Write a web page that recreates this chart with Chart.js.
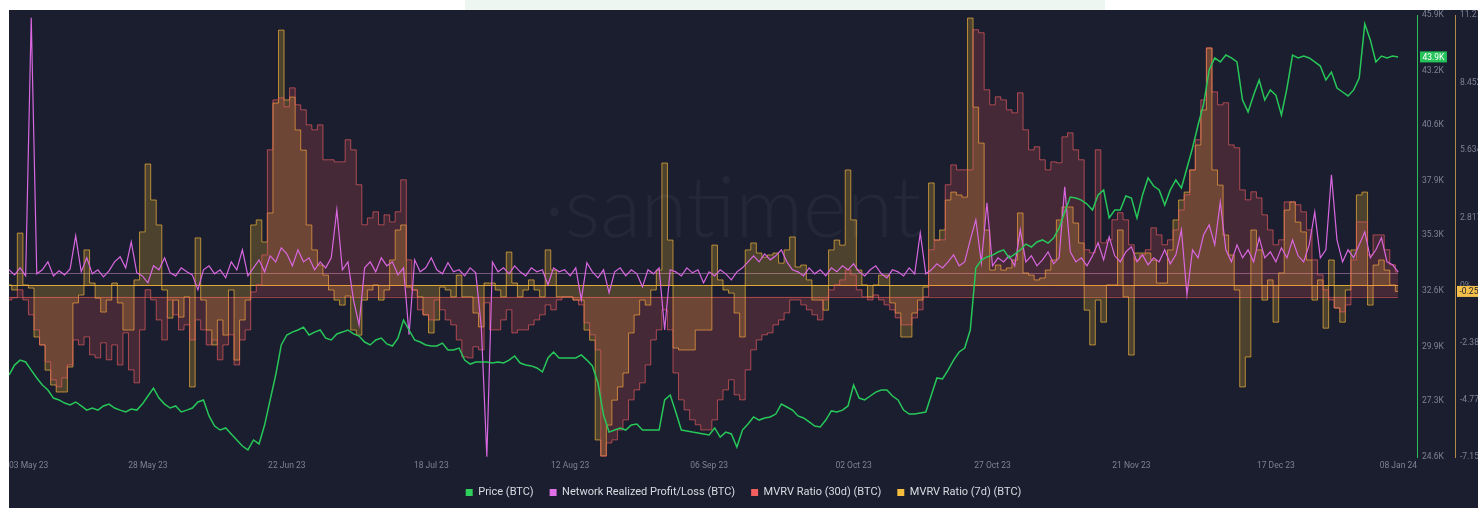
<!DOCTYPE html>
<html>
<head>
<meta charset="utf-8">
<script src="https://cdn.jsdelivr.net/npm/chart.js@4"></script>
<style>
  html, body { margin: 0; padding: 0; background: #fff; overflow: hidden; }
  #band { position: absolute; left: 465px; top: 0; width: 640px; height: 10px; background: #eef6f2; }
  #panel { position: absolute; left: 9px; top: 10px; width: 1469px; height: 498px; background: #1b1e2e; }
</style>
</head>
<body>
<div id="band"></div>
<div id="panel"><canvas id="chart"></canvas></div>
<script>
// daily points, 03 May 23 -> 08 Jan 24
const xTickDays = [0, 25, 50, 76, 101, 126, 152, 177, 202, 228, 253.4];
const xTickLabels = ['03 May 23', '28 May 23', '22 Jun 23', '18 Jul 23', '12 Aug 23', '06 Sep 23',
  '02 Oct 23', '27 Oct 23', '21 Nov 23', '17 Dec 23', '08 Jan 24'];
const xMax = 253.4;

const priceTicks = [24.6, 27.3, 29.9, 32.6, 35.3, 37.9, 40.6, 43.2, 45.9];
const mvrvTicks = [-7.15, -4.77, -2.38, 0, 2.817, 5.634, 8.452, 11.27];
const mvrvTickLabels = ['-7.15%', '-4.77%', '-2.38%', '0%', '2.817%', '5.634%', '8.452%', '11.27%'];

const seriesNames = ['Price (BTC)', 'Network Realized Profit/Loss (BTC)', 'MVRV Ratio (30d) (BTC)', 'MVRV Ratio (7d) (BTC)'];
const legendColors = ['#2fcf5c', '#e070e8', '#f25f5f', '#f5bd3d'];

// price, thousands USD
const price = [
  28.55, 29.03, 29.27, 29.18, 28.79, 28.41, 28.07, 27.83, 27.44, 27.35,
  27.20, 27.11, 27.25, 27.06, 26.86, 26.96, 26.86, 27.06, 27.15, 26.96,
  26.86, 26.77, 26.91, 26.86, 27.15, 27.54, 27.92, 27.44, 27.15, 26.96,
  27.06, 26.77, 26.86, 26.96, 27.25, 27.35, 26.58, 26.09, 25.90, 26.00,
  25.71, 25.42, 25.13, 24.94, 25.42, 25.23, 26.14, 27.35, 28.55, 30.00,
  30.48, 30.62, 30.72, 30.86, 30.48, 30.62, 30.72, 30.33, 30.24, 30.53,
  30.62, 30.72, 30.53, 30.43, 30.14, 30.00, 30.24, 30.33, 30.05, 29.95,
  30.33, 31.20, 30.72, 30.24, 30.14, 30.00, 29.95, 29.95, 30.09, 29.76,
  29.76, 29.85, 29.27, 29.08, 29.18, 29.18, 29.18, 29.13, 29.18, 29.13,
  29.27, 29.47, 29.13, 29.03, 28.99, 28.89, 28.70, 29.37, 29.66, 29.37,
  29.37, 29.37, 29.37, 29.52, 29.27, 28.99, 28.17, 26.62, 25.80, 25.90,
  26.00, 25.90, 26.14, 26.19, 25.90, 25.90, 25.90, 25.90, 27.35, 27.59,
  26.77, 25.90, 25.85, 25.80, 25.76, 25.71, 25.66, 26.00, 25.56, 25.80,
  25.71, 25.08, 25.90, 26.19, 26.53, 26.38, 26.48, 26.53, 26.67, 27.15,
  27.01, 26.86, 26.58, 26.48, 26.29, 26.09, 26.05, 26.38, 26.82, 26.77,
  26.86, 27.06, 28.07, 27.44, 27.35, 27.54, 27.73, 27.83, 27.83, 27.54,
  27.35, 26.86, 26.67, 26.67, 26.72, 26.77, 27.59, 28.41, 28.36, 28.79,
  29.27, 29.66, 29.85, 30.72, 33.71, 34.09, 34.24, 34.33, 34.48, 34.58,
  34.19, 34.38, 34.58, 34.86, 34.72, 34.96, 35.06, 34.91, 35.15, 35.64,
  36.41, 37.13, 37.08, 36.98, 36.79, 36.50, 37.23, 37.47, 36.12, 36.50,
  36.50, 37.18, 37.08, 36.12, 37.23, 38.05, 37.66, 37.47, 36.74, 37.47,
  37.95, 37.56, 38.53, 39.49, 40.60, 41.61, 43.25, 43.83, 43.64, 43.97,
  43.83, 43.64, 41.80, 41.23, 42.04, 42.77, 41.80, 42.29, 42.04, 41.08,
  42.38, 43.97, 43.83, 43.92, 43.83, 43.64, 43.44, 42.77, 43.15, 42.38,
  42.19, 42.00, 42.29, 42.86, 45.47, 44.70, 43.64, 43.92, 43.83, 43.92,
  43.88
];

// network realized profit/loss, millions USD
const nrpl = [
  33, -22, 54, -33, 2769, -11, 33, 119, -33, 22,
  -22, 43, 402, 11, 163, -11, 33, -43, 22, 119,
  174, 54, 337, 0, -33, -109, 76, 33, 163, 0,
  -33, 54, 11, -22, -185, 33, 76, -11, 33, -54,
  119, 33, 250, -33, 54, 141, 11, 185, 119, 272,
  206, 76, 250, 119, 163, 33, 119, 54, 163, 684,
  33, 119, -293, -565, 54, 119, 11, 163, 76, 119,
  -22, 54, -673, 141, 11, 54, 163, 33, -11, 109,
  11, 33, -33, 54, 0, -586, -1998, 119, 11, 54,
  -11, 76, 11, -33, 54, 11, 33, -130, 54, 11,
  33, -33, 54, -293, 109, 11, -54, 33, -217, 11,
  54, -33, 33, -11, -152, 33, -11, 54, -619, 33,
  11, -33, 54, 0, 33, -109, 11, -33, 33, -11,
  -76, 11, 54, 119, 185, 119, 206, 141, 185, 250,
  119, 33, 11, -33, 54, -11, 33, -33, 54, 11,
  76, 33, 98, 11, -33, 33, 76, -11, -54, 33,
  11, -33, 54, -11, 434, -11, 33, 98, 54, 119,
  195, 76, 119, 358, 576, 109, 760, 76, 163, 119,
  185, 76, 467, 119, 185, 76, 141, 228, 98, 163,
  934, 228, 119, 163, 76, 185, 326, 141, 391, 185,
  119, 228, 282, 119, 195, 87, 163, 119, 250, 98,
  195, 467, -239, 250, 163, 413, 521, 304, 771, 250,
  119, 304, 163, 250, 119, 380, 163, 228, 119, 272,
  163, 358, 185, 119, 304, 662, 163, 250, 1064, 358,
  119, 250, 163, 304, 445, 163, 250, 380, 119, 87,
  11
];

// MVRV 30d, percent
const mvrv30 = [
  -0.19, -0.06, 0.44, -0.19, -1.12, -2.06, -3.00, -4.06, -5.18, -5.62,
  -5.06, -4.25, -2.69, -3.00, -2.50, -3.62, -3.81, -2.87, -3.93, -3.00,
  -4.25, -2.25, -4.56, -5.37, -2.06, 0.44, -0.19, -1.44, -2.69, -0.19,
  -1.12, -2.06, -1.75, -2.69, -1.44, -2.06, -3.00, -2.69, -3.93, -3.00,
  -2.37, -4.25, -2.69, -2.06, 0.31, 0.75, 2.62, 9.18, 12.30, 12.43,
  11.87, 13.05, 11.99, 11.68, 10.74, 10.43, 10.74, 8.56, 8.56, 8.43,
  8.43, 9.81, 9.18, 7.00, 4.50, 4.93, 5.31, 4.50, 5.12, 4.68,
  5.31, 7.31, 2.31, 0.44, -0.81, -1.12, -1.44, -0.19, -0.81, -1.44,
  -1.75, -2.69, -3.75, -3.81, -3.12, -3.31, -0.37, -2.06, -2.06, -1.44,
  -0.81, -2.25, -2.06, -2.06, -1.75, -1.44, -1.12, -0.50, -0.81, -0.19,
  0, 0, -0.19, -0.50, -1.62, -2.37, -3.31, -9.95, -9.12, -8.93,
  -8.31, -7.68, -6.43, -5.81, -5.37, -4.25, -2.69, -2.06, -0.81, -2.06,
  -4.75, -6.43, -7.06, -7.68, -7.99, -8.31, -8.31, -7.68, -6.43, -5.81,
  -5.18, -6.12, -6.43, -4.56, -3.31, -2.69, -2.37, -2.25, -1.75, -1.44,
  -1.00, -0.19, -0.19, -0.50, -0.81, -1.12, -1.44, -0.19, 0.44, 0.75,
  1.06, 1.69, 1.37, 0.44, 0, -0.19, 0.12, -0.19, -0.50, -0.81,
  -1.31, -1.75, -1.75, -1.31, -0.81, 0, 2.94, 3.56, 3.56, 7.00,
  8.24, 7.93, 7.93, 7.93, 16.68, 16.49, 12.93, 11.99, 12.49, 12.30,
  11.68, 11.49, 12.74, 10.43, 9.18, 9.37, 8.56, 7.93, 8.43, 8.37,
  9.99, 10.24, 9.18, 8.56, 2.94, 2.75, 9.18, 3.37, 3.56, 4.81,
  5.25, 4.81, 3.25, 2.31, 2.62, 2.94, 4.31, 3.87, 3.25, 3.56,
  4.18, 5.43, 6.37, 7.93, 9.81, 12.30, 15.55, 12.80, 11.99, 12.12,
  9.49, 9.31, 6.68, 6.06, 6.56, 6.18, 5.12, 4.18, 3.25, 3.56,
  5.93, 5.93, 5.75, 5.31, 4.18, 2.31, 1.37, 0.44, -0.19, -0.69,
  -0.94, -0.50, 2.31, 4.68, 4.68, 2.62, 3.87, 3.87, 2.94, 2.00,
  1.56
];

// MVRV 7d, percent
const mvrv7 = [
  0.02, -0.19, 2.18, 0.02, -0.11, -2.15, -2.48, -3.53, -4.15, -4.44,
  -4.44, -3.40, -0.73, -0.40, 1.48, 0.10, -0.53, -1.11, -0.61, 0.10,
  -0.73, -1.86, -1.86, 0.23, 2.23, 5.06, 3.56, 2.52, -0.19, -1.36,
  -0.61, -1.32, -0.48, -4.23, 1.98, -0.61, -1.86, -2.48, -1.44, -2.07,
  -0.19, -3.11, -1.44, -0.61, 2.52, 2.73, 1.81, 3.02, 7.60, 10.64,
  7.73, 7.85, 6.48, 5.64, 2.52, 1.48, 0.85, 0.43, -0.19, -0.61,
  -0.82, -0.44, -1.86, -2.07, -0.61, -0.19, 0.02, -0.61, -0.19, 1.06,
  2.31, 2.52, -0.07, -0.19, -0.48, -1.23, -1.98, -1.44, -0.07, -0.19,
  -0.48, 0.43, -0.48, -0.48, -1.15, -1.73, 0.10, 0.10, -0.19, -0.48,
  1.39, 0.10, -0.48, -0.19, 0.23, -0.19, -0.48, 1.48, 0.64, -0.48,
  -0.48, -0.48, -0.61, -0.61, -1.86, -2.28, -6.44, -7.10, -5.82, -4.78,
  -4.23, -3.65, -1.98, -1.23, -0.61, -0.82, -0.19, 0.64, 5.10, 1.89,
  -2.61, -2.69, -2.69, -2.69, -1.86, -1.86, -1.86, 1.68, 0.23, -0.19,
  -0.32, -1.15, -2.15, 1.48, 1.77, 1.35, 1.18, 1.27, 1.35, 0.93,
  1.48, 2.02, 0.77, 0.85, 0.23, -0.61, -0.61, -1.03, 1.48, 1.89,
  1.68, 4.81, 2.73, 0.64, 0.02, -0.48, 0.02, 0.43, 0.43, -0.73,
  -1.15, -2.15, -2.15, -1.15, -0.61, -0.07, 4.27, 1.89, 2.31, 3.56,
  3.89, 3.77, 3.68, 11.14, 7.43, 5.93, 2.31, 0.64, 0.85, 0.64,
  0.73, 1.06, 3.02, 0.52, 0.43, 0.23, 0.31, 0.64, 1.06, 2.73,
  3.27, 3.27, 2.60, 1.77, -1.03, -2.48, -0.61, -1.53, 0.02, 0.02,
  2.31, -0.48, -2.90, 1.35, 1.35, 1.35, 1.06, 0.10, 0.10, 1.48,
  2.73, 3.56, 3.89, 4.81, 5.85, 7.31, 9.89, 4.81, 4.18, 2.10,
  1.27, -0.19, -4.23, -2.98, 2.31, 1.48, -0.61, 0.23, -1.53, 0.52,
  3.14, 3.48, 2.64, 2.23, 1.06, -0.61, 0.23, -1.78, 1.06, -0.94,
  -1.53, -0.19, 1.48, 3.77, 3.89, -0.82, 0.85, 1.06, 0.64, 0.02,
  -0.25
];

const tickColor = '#7d8294';
const pts = arr => arr.map((v, i) => ({ x: i, y: v }));

Chart.defaults.font.family = 'Roboto, sans-serif';

// faint logo behind the lines
const watermark = {
  id: 'watermark',
  beforeDatasetsDraw(chart) {
    const { ctx, chartArea: a } = chart;
    ctx.save();
    ctx.font = '300 84px Lato, sans-serif';
    ctx.fillStyle = 'rgba(255,255,255,0.045)';
    ctx.textAlign = 'center';
    ctx.textBaseline = 'middle';
    ctx.fillText('·santiment', a.left + a.width * 0.514, a.top + a.height * 0.44);
    ctx.restore();
  }
};

// zero lines of each metric
const zeroLines = {
  id: 'zeroLines',
  beforeDatasetsDraw(chart) {
    const { ctx, scales } = chart;
    const x0 = scales.x.getPixelForValue(0);
    const x1 = scales.x.getPixelForValue(price.length - 1);
    [['yP', 'rgba(235,160,225,0.45)'], ['yM', 'rgba(255,190,60,0.85)'], ['yR', 'rgba(230,90,90,0.6)']].forEach(([id, c]) => {
      const y = Math.round(scales[id].getPixelForValue(0)) + 0.5;
      ctx.save();
      ctx.strokeStyle = c;
      ctx.lineWidth = 1;
      ctx.beginPath();
      ctx.moveTo(x0, y);
      ctx.lineTo(x1, y);
      ctx.stroke();
      ctx.restore();
    });
  }
};

// last value tags on the two visible axes
const tags = {
  id: 'tags',
  afterDraw(chart) {
    const { ctx, scales } = chart;
    const drawTag = (scale, value, text, bg, fg, dx) => {
      const y = scale.getPixelForValue(value);
      ctx.save();
      ctx.font = '8.5px Roboto, sans-serif';
      const w = ctx.measureText(text).width + 5;
      ctx.fillStyle = bg;
      ctx.fillRect(scale.left + dx, y - 5.5, w, 11);
      ctx.fillStyle = fg;
      ctx.textBaseline = 'middle';
      ctx.fillText(text, scale.left + dx + 2.5, y + 0.5);
      ctx.restore();
    };
    const lastPrice = price[price.length - 1];
    const last7 = mvrv7[mvrv7.length - 1];
    drawTag(scales.y, lastPrice, lastPrice.toFixed(1) + 'K', '#25c35a', '#ffffff', 3);
    drawTag(scales.yM, last7, last7.toFixed(2), '#f4c04a', '#1b1e2e', 2);
  }
};

new Chart(document.getElementById('chart'), {
  type: 'line',
  data: {
    datasets: [
      {
        label: seriesNames[0], data: pts(price), yAxisID: 'y',
        borderColor: '#27c75a', borderWidth: 1.5, fill: false
      },
      {
        label: seriesNames[1], data: pts(nrpl), yAxisID: 'yP',
        borderColor: '#d867e0', borderWidth: 1.2, fill: false
      },
      {
        label: seriesNames[2], data: pts(mvrv30), yAxisID: 'yR', stepped: 'middle',
        borderColor: 'rgba(235,95,100,0.65)', borderWidth: 1,
        backgroundColor: 'rgba(255,90,90,0.19)', fill: 'origin'
      },
      {
        label: seriesNames[3], data: pts(mvrv7), yAxisID: 'yM', stepped: 'middle',
        borderColor: 'rgba(240,180,60,0.7)', borderWidth: 1,
        backgroundColor: 'rgba(255,195,50,0.22)', fill: 'origin'
      }
    ]
  },
  options: {
    animation: false,
    responsive: true,
    maintainAspectRatio: false,
    layout: { padding: { top: 5, left: 0, right: 0, bottom: 0 } },
    elements: { point: { radius: 0 }, line: { tension: 0 } },
    plugins: {
      tooltip: { enabled: false },
      legend: {
        position: 'bottom',
        labels: {
          boxWidth: 7, boxHeight: 7, padding: 16, color: '#d9dbe2', font: { size: 11 },
          generateLabels: chart => Chart.defaults.plugins.legend.labels.generateLabels(chart)
            .map((item, i) => Object.assign(item, { fillStyle: legendColors[i], strokeStyle: legendColors[i], lineWidth: 0 }))
        }
      }
    },
    scales: {
      x: {
        type: 'linear', min: 0, max: xMax,
        grid: { display: false, drawTicks: false },
        border: { display: false },
        afterBuildTicks: s => { s.ticks = xTickDays.map(v => ({ value: v })); },
        ticks: {
          align: 'inner', padding: 4, color: tickColor, font: { size: 8.5 },
          maxRotation: 0, autoSkip: false,
          callback: (v, i) => xTickLabels[i]
        },
        afterFit: s => { s.height = 14; s.paddingLeft = 0; s.paddingRight = 0; }
      },
      y: {
        position: 'right', min: 24.6, max: 45.9,
        grid: { display: false, drawTicks: false },
        border: { display: true, color: '#2bbf5a', width: 1 },
        afterBuildTicks: s => { s.ticks = priceTicks.map(v => ({ value: v })); },
        ticks: { padding: 5, color: tickColor, font: { size: 8.5 }, callback: v => v.toFixed(1) + 'K' },
        afterFit: s => { s.width = 38; s.paddingTop = 0; s.paddingBottom = 0; }
      },
      yM: {
        position: 'right', min: -7.15, max: 11.27,
        grid: { display: false, drawTicks: false },
        border: { display: true, color: '#b08a48', width: 1 },
        afterBuildTicks: s => { s.ticks = mvrvTicks.map(v => ({ value: v })); },
        ticks: { padding: 5, color: tickColor, font: { size: 8.5 }, callback: (v, i) => mvrvTickLabels[i] },
        afterFit: s => { s.width = 23; s.paddingTop = 0; s.paddingBottom = 0; }
      },
      yP: { display: false, min: -2000, max: 2800 },
      yR: { display: false, min: -10, max: 17.6 }
    }
  },
  plugins: [watermark, zeroLines, tags]
});
</script>
</body>
</html>
